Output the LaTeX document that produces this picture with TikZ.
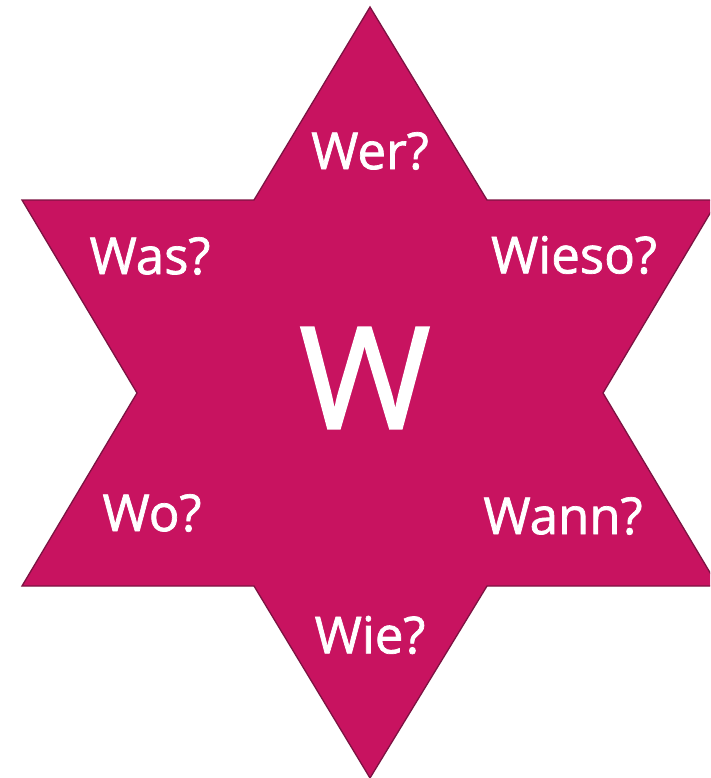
\documentclass[tikz,border=0pt]{standalone}
\usepackage{fontspec}
\setmainfont{Open Sans}
\newfontfamily\labelfont{Open Sans}[FakeBold=1.4]
\definecolor{starfill}{RGB}{200,19,96}
\definecolor{starline}{RGB}{125,18,66}
\tikzset{
  qlabel/.style={text=white, inner sep=0pt, font=\labelfont\fontsize{51}{60}\selectfont},
  bigw/.style={text=white, inner sep=0pt, font=\labelfont\fontsize{142}{160}\selectfont},
}
\begin{document}
\begin{tikzpicture}[x=1pt,y=-1pt]
\useasboundingbox (0,0) rectangle (710,778);
\clip (0,0) rectangle (710,778);
\draw[fill=starfill, draw=starline, line width=1.3pt, line join=miter]
  (370,7) -- (487,200) -- (718,200) -- (603,393) -- (718,586) -- (487,586)
  -- (370,778) -- (254,586) -- (22,586) -- (137,393) -- (22,200) -- (254,200) -- cycle;
\node[bigw] (w) at (365,378) {W};
\node[qlabel] (wer) at (370,151) {Wer?};
\node[qlabel] (was) at (150,256) {Was?};
\node[qlabel] (wieso) at (574,255) {Wieso?};
\node[qlabel] (wo) at (152,513) {Wo?};
\node[qlabel] (wann) at (563,516) {Wann?};
\node[qlabel] (wie) at (370,635) {Wie?};
\end{tikzpicture}
\end{document}
